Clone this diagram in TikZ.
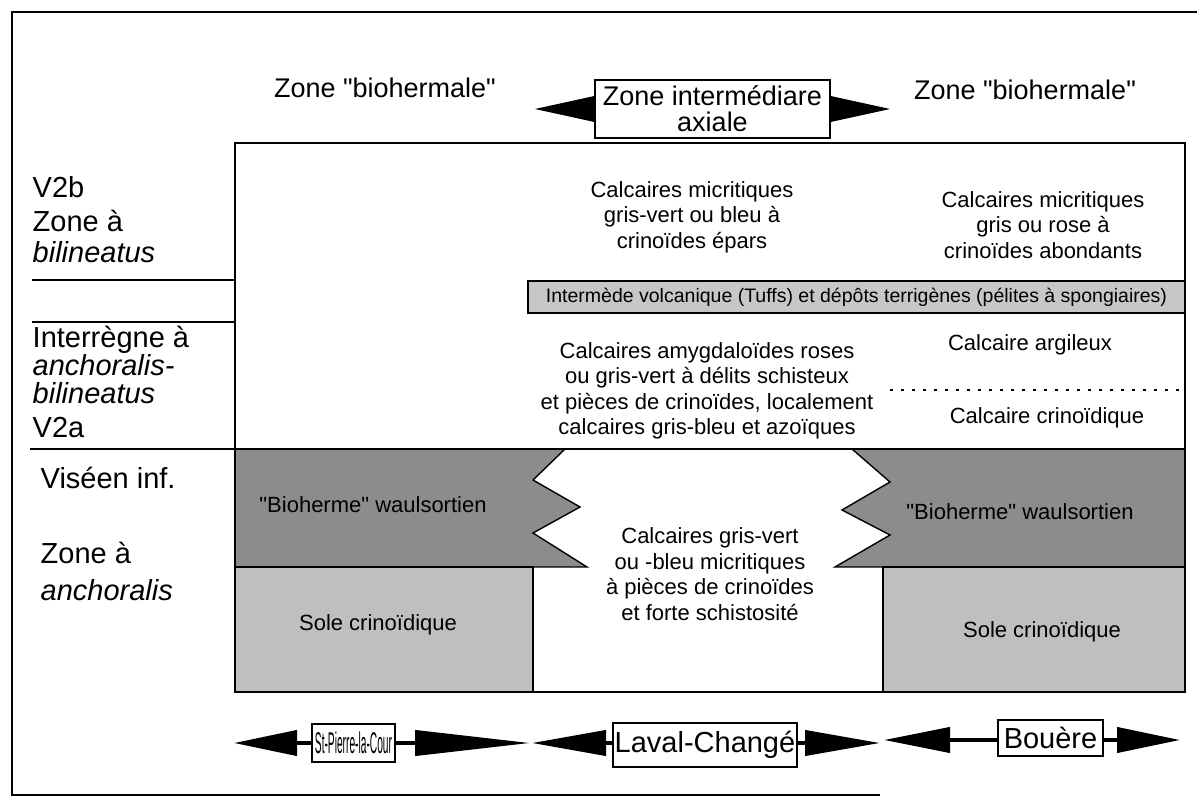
\documentclass[tikz,border=0pt]{standalone}
\usepackage{fontspec}
\setmainfont{Liberation Sans}[Ligatures=TeXOff]
\usetikzlibrary{arrows.meta}
\tikzset{
  hdr/.style={font=\fontsize{27}{26}\selectfont,inner sep=0pt},
  lbl/.style={font=\fontsize{29}{32}\selectfont,anchor=base west,inner sep=0pt},
  txt/.style={font=\fontsize{22}{25.5}\selectfont,align=center,inner sep=0pt},
  pat/.style={font=\fontsize{22}{22}\selectfont,inner sep=0pt},
  place/.style={draw,fill=white,line width=1.4pt,font=\fontsize{29}{29}\selectfont,inner sep=1pt},
  fat/.style={line width=4pt,-{Triangle[length=#1,width=25pt]}},
  dark/.style={fill=black!45,draw,line width=1.4pt},
  light/.style={fill=black!25,draw,line width=1.4pt}
}
\begin{document}
\begin{tikzpicture}[x=1pt,y=-1pt,line width=1.4pt]
    \useasboundingbox (0,0) rectangle (1197,805);
    \draw[line width=2pt] (1197,12) -- (12,12) -- (12,795) -- (880,795);
    \node[hdr] (bioL) at (385,88) {Zone "biohermale"};
    \node[hdr] (bioR) at (1025,90) {Zone "biohermale"};
    \node[draw,hdr,align=center,minimum width=235,minimum height=58] (axe) at (712.5,109) {Zone intermédiare\\axiale};
    \coordinate (aL) at (535,109);
    \coordinate (aR) at (890,109);
    \draw[line width=1pt,-{Triangle[length=60pt,width=26pt]}] (axe.west) -- (aL);
    \draw[line width=1pt,-{Triangle[length=60pt,width=26pt]}] (axe.east) -- (aR);
    \draw[dark] (235,449) -- (565,449) -- (533,480) -- (580,507) -- (533,533) -- (587,567) -- (235,567) -- cycle;
    \draw[dark] (1185,449) -- (852,449) -- (890,482) -- (842,510) -- (890,535) -- (835,567) -- (1185,567) -- cycle;
    \draw[light] (235,567) rectangle (533,692);
    \draw[light] (883,567) rectangle (1185,692);
    \node[draw,fill=black!22,minimum width=657,minimum height=32,inner sep=0pt,font=\fontsize{19.5}{19}\selectfont] (tuffs) at (856.5,297) {Intermède volcanique (Tuffs) et dépôts terrigènes (pélites à spongiaires)};
    \draw[line width=2.2pt,dash pattern=on 2.5pt off 8.5pt] (890,390) -- (1185,390);
    \draw (32,280) -- (235,280);
    \draw (32,322) -- (235,322);
    \draw (30,449) -- (1185,449);
    \foreach \y/\t [count=\i] in {198/V2b,232/Zone à,262/\textit{bilineatus},347/Interrègne à,375/\textit{anchoralis-},403/\textit{bilineatus},437/V2a}
      \node[lbl] (l\i) at (32,\y) {\t};
    \foreach \y/\t [count=\i] in {488/Viséen inf.,563/Zone à,600/\textit{anchoralis}}
      \node[lbl] (m\i) at (40,\y) {\t};
    \node[txt] (mic1) at (692,217) {Calcaires micritiques\\gris-vert ou bleu à\\crinoïdes épars};
    \node[txt] (mic2) at (1043,225) {Calcaires micritiques\\gris ou rose à\\crinoïdes abondants};
    \node[txt] (amyg) at (707,391) {Calcaires amygdaloïdes roses\\ou gris-vert à délits schisteux\\et pièces de crinoïdes, localement\\calcaires gris-bleu et azoïques};
    \node[txt] (arg) at (1030,345) {Calcaire argileux};
    \node[txt] (crin) at (1047,418) {Calcaire crinoïdique};
    \node[txt] (axial) at (710,574) {Calcaires gris-vert\\ou -bleu micritiques\\à pièces de crinoïdes\\et forte schistosité};
    \node[pat] (bh1) at (373,505) {"Bioherme" waulsortien};
    \node[pat] (bh2) at (1020,512) {"Bioherme" waulsortien};
    \node[pat] (so1) at (378,625) {Sole crinoïdique};
    \node[pat] (so2) at (1042,632) {Sole crinoïdique};
    \draw[line width=2.2pt] (235,143) rectangle (1185,692);
    \node[place,minimum width=83,minimum height=38,font=\fontsize{30}{30}\selectfont] (stp) at (353.5,743) {\scalebox{0.34}[1]{St-Pierre-la-Cour}};
    \node[place,minimum width=184,minimum height=44] (lav) at (705,745) {Laval-Changé};
    \node[place,minimum width=105,minimum height=36] (bou) at (1050.5,738) {Bouère};
    \coordinate (sL) at (234,743);
    \coordinate (sR) at (530,743);
    \coordinate (lL) at (532,743);
    \coordinate (lR) at (880,743);
    \coordinate (bL) at (884,740);
    \coordinate (bR) at (1180,740);
    \draw[fat=63pt] (stp.west) -- (sL);
    \draw[fat=115pt] (stp.east) -- (sR);
    \draw[fat=74pt] (lav.west |- lL) -- (lL);
    \draw[fat=75pt] (lav.east |- lR) -- (lR);
    \draw[fat=66pt] (bou.west |- bL) -- (bL);
    \draw[fat=63pt] (bou.east |- bR) -- (bR);
  \end{tikzpicture}
\end{document}
